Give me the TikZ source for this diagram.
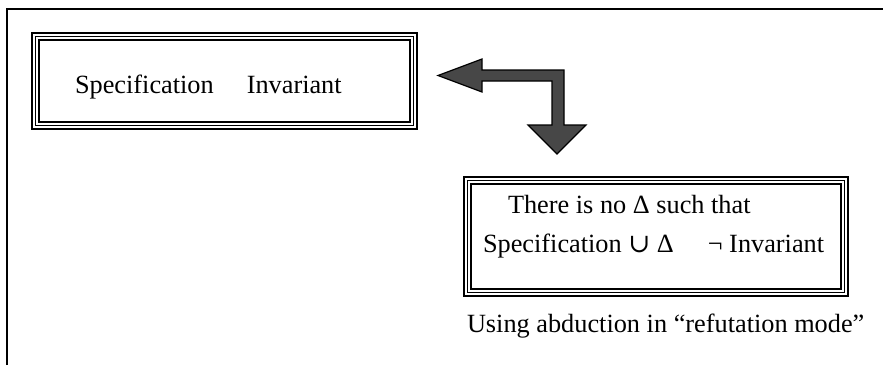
\documentclass[tikz,border=0pt]{standalone}
\usepackage{fontspec}
\setmainfont{Liberation Serif}
\newfontfamily\mathsymfont{DejaVu Serif}
\usetikzlibrary{calc}
\begin{document}
\begin{tikzpicture}[x=1pt,y=-1pt,
  every node/.style={inner sep=0pt, outer sep=0pt},
  txt/.style={anchor=base west, font=\fontsize{26.3}{30}\selectfont},
  framebox/.style={draw=none, rectangle},
  edge/.style={line width=2pt, black},
  thinedge/.style={line width=0.9pt, black},
  blockarrow/.style={fill=black!72, draw=black, line width=1.2pt, line join=miter}
]
\useasboundingbox (0,0) rectangle (883,365);

% open page frame (top and left edges only)
\draw[line width=2pt] (7,365) -- (7,9) -- (883,9);

% triple-ruled boxes: thick outer, thin middle, thick inner
\node[framebox, minimum width=385pt, minimum height=96pt] (spec) at (224.5,81) {};
\node[framebox, minimum width=384pt, minimum height=119pt] (noDelta) at (656,236.5) {};
\foreach \b in {spec,noDelta}{
  \draw[edge] (\b.north west) rectangle (\b.south east);
  \draw[thinedge] ($(\b.north west)+(3.6,3.6)$) rectangle ($(\b.south east)+(-3.6,-3.6)$);
  \draw[edge] ($(\b.north west)+(6.8,6.8)$) rectangle ($(\b.south east)+(-6.8,-6.8)$);
}

% texts
\node[txt] (specText) at (75,93) {Specification\hspace{33pt}Invariant};
\node[txt] (line1) at (508,213) {There is no Δ such that};
\node[txt] (line2) at (483,252) {Specification {\mathsymfont ∪} Δ\hspace{34pt}¬ Invariant};
\node[txt] (caption) at (467,332) {Using abduction in “refutation mode”};

% bent block arrow between the two boxes
\draw[blockarrow]
  (438,75.5) -- (482,59) -- (482,70) -- (564,70) -- (564,125) -- (586,125)
  -- (557,154) -- (528,125) -- (552,125) -- (552,81) -- (482,81) -- (482,92) -- cycle;
\end{tikzpicture}
\end{document}
